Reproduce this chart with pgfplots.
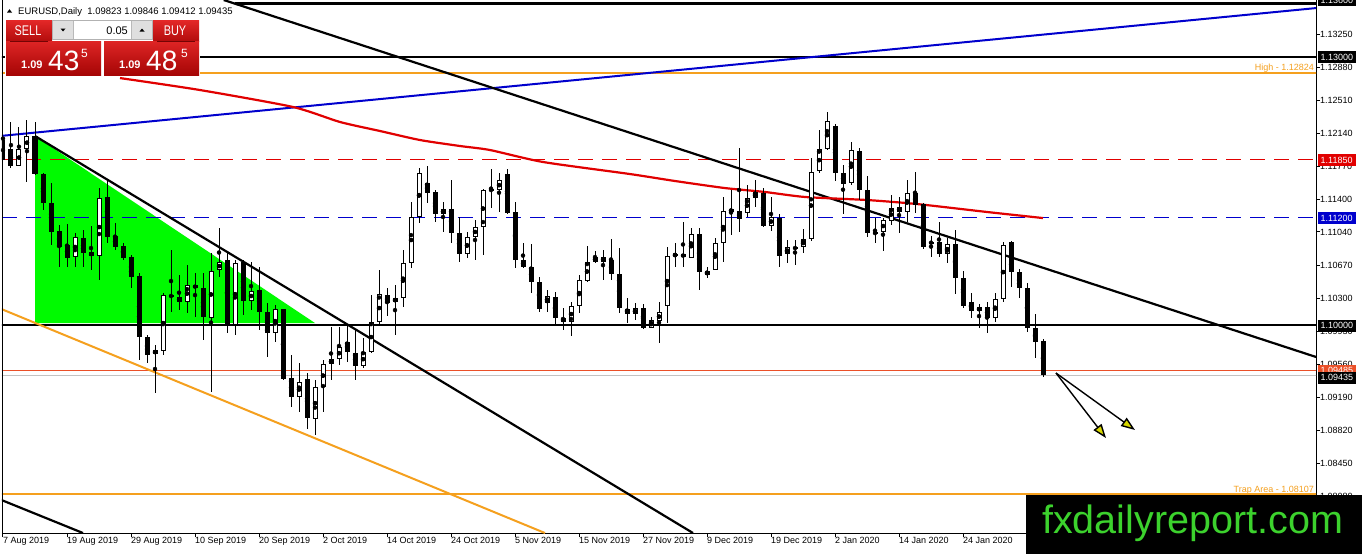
\documentclass[border=0pt]{standalone}
\usepackage{pgfplots}
\pgfplotsset{compat=1.18}
\usepackage{pgfplotstable}
\usepackage{graphicx}
\usepackage{fontspec}
\setmainfont{Liberation Sans}
\usetikzlibrary{arrows.meta}

\definecolor{mtblue}{RGB}{0,0,205}
\definecolor{mtred}{RGB}{225,0,0}
\definecolor{mtorange}{RGB}{245,160,30}
\definecolor{mtgreen}{RGB}{0,250,0}
\definecolor{wmgreen}{RGB}{60,210,45}
\definecolor{askred}{RGB}{235,80,40}
\definecolor{bidgray}{RGB}{195,195,195}
\definecolor{ptop}{RGB}{228,40,40}
\definecolor{pbot}{RGB}{165,5,5}
\definecolor{arrowy}{RGB}{215,215,0}

\newcommand{\tickfont}{\fontsize{9}{9}\selectfont}
\newcommand{\pbox}[3]{\fill[#1] (1318,#2-6) rectangle (1356,#2+6);
  \node[anchor=base west,inner sep=0pt,text=white,font=\tickfont] at (1320.5,#2+3.3) {#3};}

\pgfplotstableread{
k o h l c
0 1.12070 1.12406 1.11768 1.11846
1 1.11969 1.12272 1.11756 1.11779
2 1.11779 1.12216 1.11775 1.11969
3 1.11969 1.12294 1.11600 1.12115
4 1.12115 1.12272 1.11678 1.11689
5 1.11689 1.11700 1.11286 1.11364
6 1.11364 1.11588 1.10894 1.11040
7 1.11051 1.11118 1.10648 1.10872
8 1.10894 1.11129 1.10648 1.10748
9 1.10760 1.11028 1.10648 1.10984
10 1.10972 1.11062 1.10648 1.10804
11 1.10816 1.11107 1.10614 1.10771
12 1.10771 1.11532 1.10502 1.11420
13 1.11432 1.11622 1.10916 1.10984
14 1.10995 1.11140 1.10838 1.10872
15 1.10883 1.10916 1.10726 1.10748
16 1.10760 1.10782 1.10412 1.10536
17 1.10547 1.10580 1.09606 1.09864
18 1.09864 1.09886 1.09572 1.09662
19 1.09673 1.09774 1.09236 1.09718
20 1.09707 1.10356 1.09662 1.10334
21 1.10334 1.10838 1.10144 1.10312
22 1.10312 1.10558 1.10166 1.10256
23 1.10256 1.10670 1.10132 1.10446
24 1.10446 1.10580 1.10088 1.10412
25 1.10412 1.10580 1.09830 1.10088
26 1.10076 1.10804 1.09248 1.10603
27 1.10614 1.11084 1.10536 1.10704
28 1.10726 1.10804 1.09908 1.09998
29 1.09998 1.10726 1.09886 1.10692
30 1.10704 1.10726 1.10110 1.10267
31 1.10267 1.10704 1.10166 1.10379
32 1.10390 1.10648 1.09942 1.10144
33 1.10144 1.10244 1.09640 1.09908
34 1.09908 1.10222 1.09808 1.10177
35 1.10177 1.10180 1.09382 1.09393
36 1.09404 1.09662 1.09080 1.09192
37 1.09192 1.09572 1.09024 1.09360
38 1.09393 1.09460 1.08833 1.08956
39 1.08945 1.09382 1.08766 1.09304
40 1.09304 1.09606 1.09024 1.09561
41 1.09561 1.09976 1.09382 1.09617
42 1.09617 1.09976 1.09550 1.09752
43 1.09808 1.09998 1.09584 1.09696
44 1.09684 1.09942 1.09382 1.09539
45 1.09539 1.09852 1.09516 1.09696
46 1.09696 1.10334 1.09684 1.10032
47 1.10032 1.10614 1.09998 1.10345
48 1.10334 1.10412 1.10099 1.10244
49 1.10256 1.10446 1.09886 1.10300
50 1.10300 1.10838 1.10200 1.10692
51 1.10692 1.11376 1.10636 1.11208
52 1.11208 1.11756 1.11140 1.11700
53 1.11588 1.11779 1.11364 1.11476
54 1.11488 1.11510 1.11152 1.11241
55 1.11241 1.11376 1.11040 1.11297
56 1.11297 1.11622 1.10916 1.11028
57 1.11028 1.11208 1.10704 1.10793
58 1.10793 1.11040 1.10748 1.10984
59 1.10984 1.11174 1.10726 1.11096
60 1.11096 1.11521 1.10782 1.11510
61 1.11521 1.11745 1.11308 1.11499
62 1.11510 1.11700 1.11264 1.11622
63 1.11689 1.11745 1.11245 1.11252
64 1.11264 1.11376 1.10636 1.10726
65 1.10726 1.10916 1.10636 1.10648
66 1.10648 1.10905 1.10356 1.10480
67 1.10480 1.10536 1.10144 1.10177
68 1.10244 1.10390 1.10144 1.10323
69 1.10312 1.10368 1.09998 1.10076
70 1.10076 1.10188 1.09942 1.10032
71 1.10032 1.10256 1.09875 1.10211
72 1.10211 1.10558 1.10132 1.10502
73 1.10491 1.10883 1.10480 1.10704
74 1.10704 1.10827 1.10692 1.10760
75 1.10760 1.10838 1.10502 1.10704
76 1.10726 1.10961 1.10502 1.10569
77 1.10569 1.10860 1.10132 1.10188
78 1.10177 1.10300 1.10020 1.10121
79 1.10121 1.10244 1.10054 1.10188
80 1.10188 1.10233 1.09953 1.09964
81 1.09964 1.10088 1.09960 1.10054
82 1.10043 1.10256 1.09796 1.10144
83 1.10211 1.10872 1.10020 1.10771
84 1.10771 1.10916 1.10648 1.10793
85 1.10793 1.11152 1.10648 1.10760
86 1.10748 1.11084 1.10745 1.11017
87 1.11017 1.11084 1.10390 1.10592
88 1.10558 1.10648 1.10524 1.10603
89 1.10614 1.10972 1.10610 1.10916
90 1.10916 1.11432 1.10704 1.11275
91 1.11264 1.11510 1.11006 1.11297
92 1.11275 1.11980 1.11040 1.11185
93 1.11252 1.11566 1.11208 1.11420
94 1.11420 1.11622 1.11320 1.11488
95 1.11476 1.11532 1.11096 1.11107
96 1.11107 1.11432 1.11051 1.11208
97 1.11196 1.11241 1.10648 1.10771
98 1.10793 1.10950 1.10692 1.10872
99 1.10872 1.10950 1.10670 1.10849
100 1.10872 1.11073 1.10804 1.10961
101 1.10961 1.11868 1.10945 1.11712
102 1.11723 1.12182 1.11700 1.11969
103 1.11969 1.12384 1.11958 1.12283
104 1.12227 1.12249 1.11611 1.11700
105 1.11700 1.11790 1.11241 1.11577
106 1.11588 1.12048 1.11566 1.11958
107 1.11947 1.11980 1.11398 1.11510
108 1.11510 1.11667 1.10984 1.11028
109 1.11040 1.11196 1.10916 1.11017
110 1.11040 1.11196 1.10827 1.11174
111 1.11163 1.11454 1.11118 1.11308
112 1.11320 1.11432 1.11028 1.11264
113 1.11264 1.11622 1.11152 1.11476
114 1.11476 1.11712 1.11252 1.11342
115 1.11353 1.11364 1.10849 1.10872
116 1.10928 1.10995 1.10760 1.10916
117 1.10928 1.11152 1.10760 1.10793
118 1.10793 1.10972 1.10692 1.10905
119 1.10905 1.11062 1.10345 1.10524
120 1.10524 1.10603 1.10188 1.10211
121 1.10256 1.10356 1.10076 1.10155
122 1.10155 1.10233 1.09964 1.10200
123 1.10200 1.10256 1.09908 1.10076
124 1.10076 1.10356 1.10032 1.10289
125 1.10289 1.10928 1.10256 1.10894
126 1.10928 1.10935 1.10424 1.10592
127 1.10592 1.10625 1.10300 1.10412
128 1.10412 1.10468 1.09920 1.09964
129 1.09964 1.10121 1.09628 1.09808
130 1.09823 1.09846 1.09412 1.09435
}\candles

\pgfplotstableread{
k p
14.625 1.12764
24.625 1.12630
36.25 1.12440
42.125 1.12272
47.125 1.12171
52.125 1.12070
57.125 1.12003
60.875 1.11958
67.5 1.11824
78.375 1.11689
84 1.11611
90.25 1.11532
95.25 1.11488
100.25 1.11432
108 1.11398
114.25 1.11353
123 1.11264
130 1.11196
}\ma

\begin{document}
\begin{tikzpicture}
\useasboundingbox (0pt,0pt) rectangle (1362pt,-554pt);
\fill[white] (0pt,0pt) rectangle (1362pt,-554pt);
\begin{axis}[
  at={(2pt,0pt)}, anchor=north west,
  width=1314pt, height=533pt, scale only axis,
  xmin=-0.125, xmax=164.125,
  ymin=1.076684, ymax=1.136384,
  axis x line*=bottom, axis y line*=right,
  axis line style={black, line width=1pt, -},
  tick align=outside, major tick length=4pt,
  tick style={black, line width=1pt},
  xtick={0,8,...,120},
  xticklabels={7 Aug 2019,19 Aug 2019,29 Aug 2019,10 Sep 2019,20 Sep 2019,2 Oct 2019,14 Oct 2019,24 Oct 2019,5 Nov 2019,15 Nov 2019,27 Nov 2019,9 Dec 2019,19 Dec 2019,2 Jan 2020,14 Jan 2020,24 Jan 2020},
  ytick={1.0808,1.0845,1.0882,1.0919,1.0956,1.0993,1.1030,1.1067,1.1104,1.1140,1.1177,1.1214,1.1251,1.1288,1.1325},
  yticklabels={1.08080,1.08450,1.08820,1.09190,1.09560,1.09930,1.10300,1.10670,1.11040,1.11400,1.11770,1.12140,1.12510,1.12880,1.13250},
  ticklabel style={font=\tickfont},
  xticklabel style={anchor=north west, inner sep=0pt},
  yticklabel style={anchor=west, inner sep=0pt},
  scaled y ticks=false,
  clip=true,
]
% green triangle
\addplot[fill=mtgreen, draw=none, forget plot] coordinates {(4,1.12115) (4,1.10020) (39,1.10020)} -- cycle;
% horizontal levels
\addplot[draw=black, line width=2.4pt, forget plot] coordinates {(29,1.13600) (165,1.13600)};
\addplot[draw=black, line width=2.4pt, forget plot] coordinates {(-1,1.13000) (165,1.13000)};
\addplot[draw=mtorange, line width=2pt, forget plot] coordinates {(-1,1.12824) (165,1.12824)};
\addplot[draw=mtred, line width=1.3pt, dash pattern=on 15pt off 9pt, forget plot] coordinates {(-0.125,1.11850) (165,1.11850)};
\addplot[draw=mtblue, line width=1.3pt, dash pattern=on 15pt off 9pt, forget plot] coordinates {(-0.125,1.11200) (165,1.11200)};
\addplot[draw=black, line width=2.4pt, forget plot] coordinates {(-1,1.10000) (165,1.10000)};
\addplot[draw=askred, line width=1pt, forget plot] coordinates {(-1,1.09485) (165,1.09485)};
\addplot[draw=bidgray, line width=1pt, forget plot] coordinates {(-1,1.09435) (165,1.09435)};
\addplot[draw=mtorange, line width=2pt, forget plot] coordinates {(-1,1.08107) (165,1.08107)};
% trend lines
\addplot[draw=mtblue, line width=2pt, forget plot] coordinates {(-0.375,1.12115) (164.125,1.13548)};
\addplot[draw=black, line width=2.2pt, forget plot] coordinates {(27.6,1.13638) (164.125,1.09640)};
\addplot[draw=black, line width=2.2pt, forget plot] coordinates {(4,1.12115) (86.25,1.07668)};
\addplot[draw=black, line width=2.2pt, forget plot] coordinates {(-0.5,1.08049) (10,1.07668)};
\addplot[draw=mtorange, line width=2pt, forget plot] coordinates {(-0.5,1.10188) (67.75,1.07668)};
% moving average
\addplot[draw=mtred, line width=2.2pt, smooth, tension=0.4, forget plot] table[x=k, y=p] {\ma};
% wicks
\addplot[only marks, mark=none, forget plot,
  error bars/.cd, y dir=both, y explicit, error mark=none,
  error bar style={draw=black, line width=1pt, solid}]
  table[x=k, y expr={(\thisrow{h}+\thisrow{l})/2}, y error expr={(\thisrow{h}-\thisrow{l})/2}] {\candles};
% bear bodies
\addplot[only marks, mark=none, forget plot,
  x filter/.expression={\thisrow{c}<\thisrow{o} ? x : nan},
  error bars/.cd, y dir=both, y explicit, error mark=none,
  error bar style={draw=black, line width=5pt, line cap=butt, solid}]
  table[x=k, y expr={(\thisrow{o}+\thisrow{c})/2}, y error expr={max(abs(\thisrow{o}-\thisrow{c})/2,0.00006)}] {\candles};
% bull bodies outline
\addplot[only marks, mark=none, forget plot,
  x filter/.expression={\thisrow{c}<\thisrow{o} ? nan : x},
  error bars/.cd, y dir=both, y explicit, error mark=none,
  error bar style={draw=black, line width=5pt, line cap=butt, solid}]
  table[x=k, y expr={(\thisrow{o}+\thisrow{c})/2}, y error expr={max(abs(\thisrow{o}-\thisrow{c})/2,0.00006)}] {\candles};
% bull bodies fill
\addplot[only marks, mark=none, forget plot,
  x filter/.expression={\thisrow{c}<\thisrow{o} ? nan : x},
  error bars/.cd, y dir=both, y explicit, error mark=none,
  error bar style={draw=white, line width=3pt, line cap=butt, solid}]
  table[x=k, y expr={(\thisrow{o}+\thisrow{c})/2}, y error expr={max(abs(\thisrow{o}-\thisrow{c})/2-0.000112,0)}] {\candles};
% arrows
\addplot[draw=black, line width=1.4pt, -{Triangle[length=14pt, width=10pt, fill=arrowy]}, forget plot] coordinates {(131.625,1.09460) (137.875,1.08732)};
\addplot[draw=black, line width=1.4pt, -{Triangle[length=14pt, width=10pt, fill=arrowy]}, forget plot] coordinates {(131.625,1.09460) (141.5,1.08822)};
\end{axis}

\begin{scope}[x=1pt,y=-1pt]
% left frame
\draw[black, line width=1pt] (2.5,0) -- (2.5,533);
% level texts
\node[anchor=base east, inner sep=0pt, text=mtorange, font=\tickfont] at (1314,70.5) {High - 1.12824};
\node[anchor=base east, inner sep=0pt, text=mtorange, font=\tickfont] at (1314,492) {Trap Area - 1.08107};
% price boxes on the right scale
\pbox{black}{0}{1.13600}
\pbox{black}{57}{1.13000}
\pbox{mtred}{160}{1.11850}
\pbox{mtblue}{217.7}{1.11200}
\pbox{black}{325.5}{1.10000}
\pbox{askred}{370.5}{1.09485}
\pbox{black}{377.5}{1.09435}
% watermark
\fill[black] (1026,495) rectangle (1362,554);
\node[anchor=base west, inner sep=0pt, text=wmgreen, font=\fontsize{39.5}{39.5}\selectfont] at (1042,533) {fxdailyreport.com};
% title
\fill[black] (7,12.5) -- (12,12.5) -- (9.5,9.2) -- cycle;
\node[anchor=base west, inner sep=0pt, font=\fontsize{9.5}{9.5}\selectfont] at (18,14.3) {EURUSD,Daily\ \ 1.09823 1.09846 1.09412 1.09435};
% trading panel
\fill[white] (5,19) rectangle (200,76);
\shade[top color=ptop, bottom color=pbot!80!ptop] (6,20) rectangle (52,41.5);
\shade[top color=ptop, bottom color=pbot!80!ptop] (153,20) rectangle (199,41.5);
\shade[top color=ptop!90!pbot, bottom color=pbot] (6,41.5) rectangle (101,75);
\shade[top color=ptop!90!pbot, bottom color=pbot] (104,41.5) rectangle (199,75);
\draw[pbot!70!black, line width=0.8pt] (10,41.5) -- (48,41.5);
\draw[pbot!70!black, line width=0.8pt] (157,41.5) -- (195,41.5);
\draw[gray!60, line width=0.8pt] (52.5,20.5) rectangle (152.5,39.5);
\fill[gray!25] (53,21) rectangle (73,39);
\fill[gray!25] (132,21) rectangle (152,39);
\draw[gray!55, line width=0.6pt] (73.5,21) -- (73.5,39);
\draw[gray!55, line width=0.6pt] (131.5,21) -- (131.5,39);
\fill[black] (60.5,28.5) -- (65.5,28.5) -- (63,31.5) -- cycle;
\fill[black] (139.5,31.5) -- (144.5,31.5) -- (142,28.5) -- cycle;
\node[anchor=base east, inner sep=0pt, font=\fontsize{11}{11}\selectfont] at (128,34.5) {0.05};
\node[text=white, inner sep=0pt, font=\fontsize{14}{14}\selectfont] at (28,31) {\scalebox{0.78}[1]{SELL}};
\node[text=white, inner sep=0pt, font=\fontsize{14}{14}\selectfont] at (175,31) {\scalebox{0.78}[1]{BUY}};
\node[anchor=base west, inner sep=0pt, text=white, font=\fontsize{11}{11}\selectfont\bfseries] at (21,68.5) {1.09};
\node[anchor=base west, inner sep=0pt, text=white, font=\fontsize{28}{28}\selectfont] at (48,70) {43};
\node[anchor=base west, inner sep=0pt, text=white, font=\fontsize{12}{12}\selectfont] at (81,57) {5};
\node[anchor=base west, inner sep=0pt, text=white, font=\fontsize{11}{11}\selectfont\bfseries] at (119,68.5) {1.09};
\node[anchor=base west, inner sep=0pt, text=white, font=\fontsize{28}{28}\selectfont] at (146,70) {48};
\node[anchor=base west, inner sep=0pt, text=white, font=\fontsize{12}{12}\selectfont] at (181,57) {5};
\end{scope}
\end{tikzpicture}
\end{document}
